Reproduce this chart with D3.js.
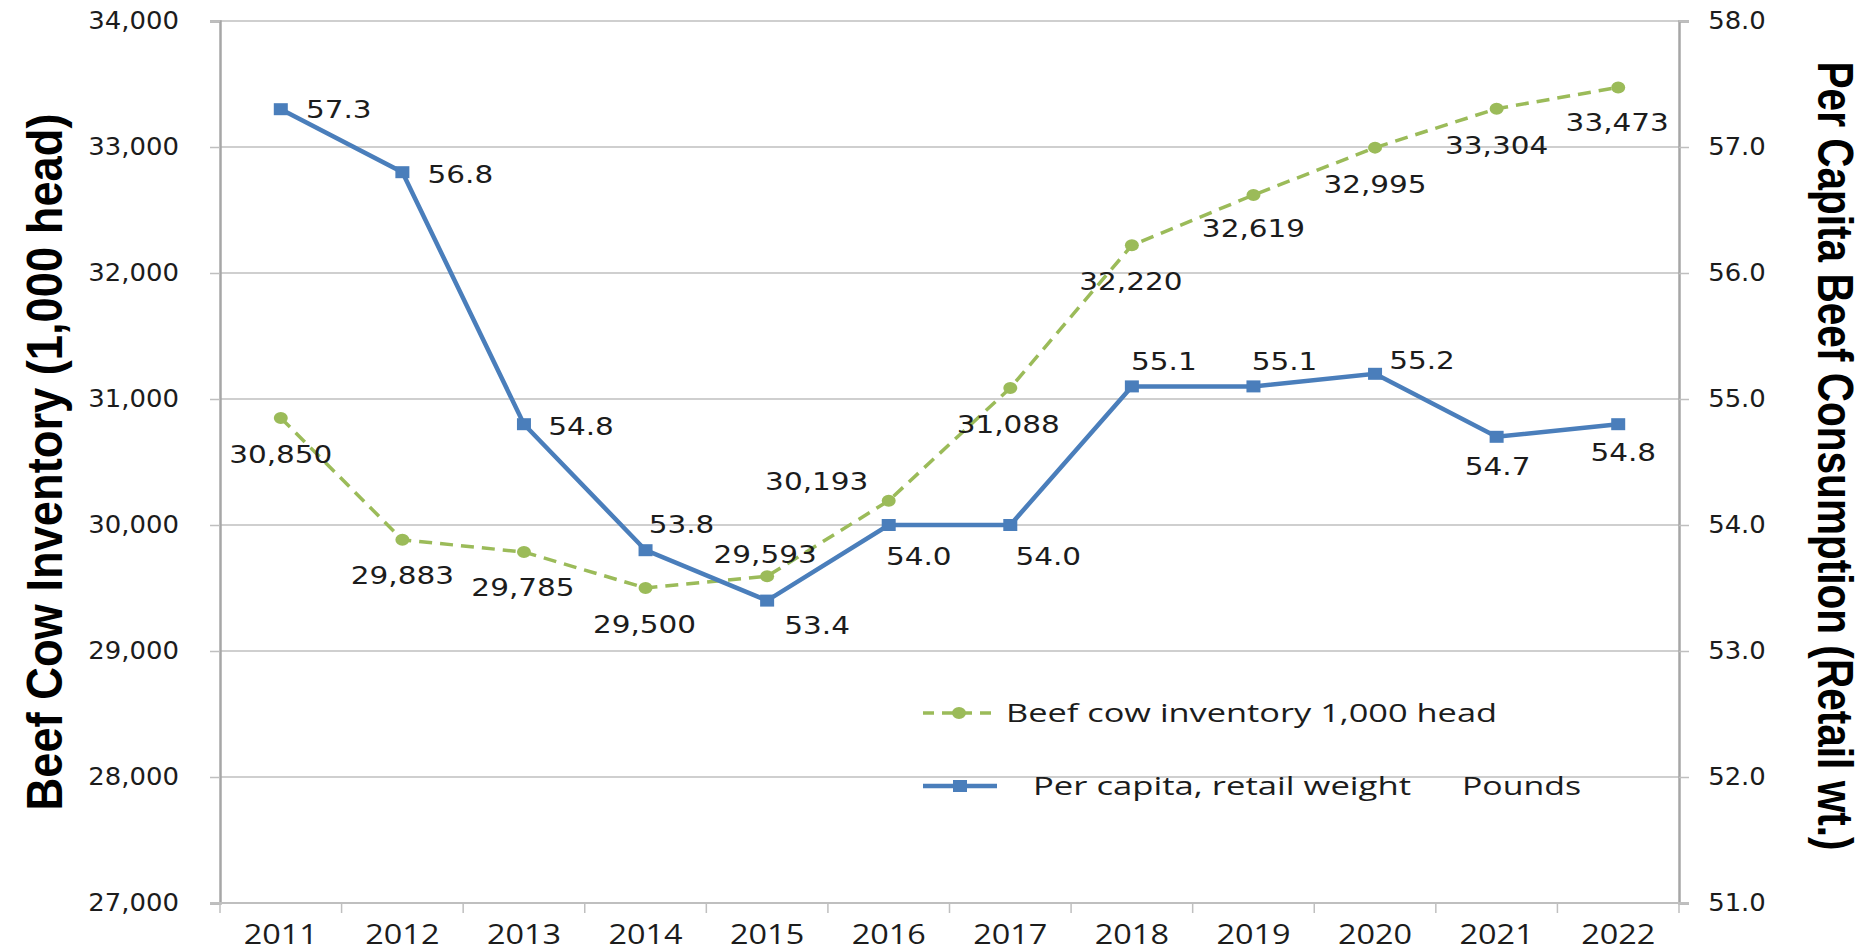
<!DOCTYPE html>
<meta charset="utf-8">
<head>
  <title>Beef cow inventory vs per capita consumption</title>
</head>
<style>
  body { margin: 0; background: #fff; }
  svg { display: block; }
</style>
<body>
<svg width="1876" height="952"></svg>

<script src="https://cdnjs.cloudflare.com/ajax/libs/d3/7.8.5/d3.min.js"></script>
<script>

// data
var years = ["2011", "2012", "2013", "2014", "2015", "2016", "2017", "2018", "2019", "2020", "2021", "2022"];
var inventory = [30850, 29883, 29785, 29500, 29593, 30193, 31088, 32220, 32619, 32995, 33304, 33473];
var perCapita = [57.3, 56.8, 54.8, 53.8, 53.4, 54.0, 54.0, 55.1, 55.1, 55.2, 54.7, 54.8];
var leftTicks = [27000, 28000, 29000, 30000, 31000, 32000, 33000, 34000];
var rightTicks = [51, 52, 53, 54, 55, 56, 57, 58];
var seriesNames = ["Beef cow inventory 1,000 head", "Per capita, retail weight", "Pounds"];

// label offsets from each point (label centre), same order as years
var greenLabelOffset = [[0,36],[0,35],[-1,35],[-1,36],[-2,-22],[-72,-20],[-2,36],[-1,36],[0,33],[0,36],[0,36],[-1,35]];
var blueLabelOffset = [[58,0],[58,2],[57,2],[36,-26],[50,24],[30,31],[38,31],[32,-25],[31,-25],[47,-14],[1,29],[5,28]];

var green = "#9bbb59", blue = "#4a7ebb", grid = "#bfbfbf", axisGrey = "#a6a6a6", ink = "#1c1c1c";

var svg = d3.select("svg"),
    plot = {left: 220, right: 1679, top: 21, bottom: 903};

var x = d3.scaleBand().domain(years).range([plot.left, plot.right]).padding(0);
var yL = d3.scaleLinear().domain([27000, 34000]).range([plot.bottom, plot.top]);
var yR = d3.scaleLinear().domain([51, 58]).range([plot.bottom, plot.top]);
var cx = function(d) { return x(d) + x.bandwidth() / 2; };

// gridlines
svg.append("g").selectAll("line")
  .data(leftTicks)
  .enter().append("line")
    .attr("x1", plot.left).attr("x2", plot.right)
    .attr("y1", function(d) { return yL(d); })
    .attr("y2", function(d) { return yL(d); })
    .attr("stroke", grid)
    .attr("stroke-width", 1.5);

// left axis
var gL = svg.append("g")
  .attr("transform", "translate(" + plot.left + ",0)")
  .call(d3.axisLeft(yL).tickValues(leftTicks).tickFormat(d3.format(",")).tickSize(10).tickPadding(28));
gL.select(".domain").attr("stroke", axisGrey).attr("stroke-width", 2.5);
gL.selectAll(".tick line").attr("stroke", grid).attr("stroke-width", 1.5);
gL.selectAll("text")
  .attr("font-family", "DejaVu Sans").attr("font-size", 24).attr("fill", ink)
  .attr("transform", "scale(1.08,1)");

// right axis
var gR = svg.append("g")
  .attr("transform", "translate(" + plot.right + ",0)")
  .call(d3.axisRight(yR).tickValues(rightTicks).tickFormat(d3.format(".1f")).tickSize(10).tickPadding(17));
gR.select(".domain").attr("stroke", axisGrey).attr("stroke-width", 2.5);
gR.selectAll(".tick line").attr("stroke", grid).attr("stroke-width", 1.5);
gR.selectAll("text")
  .attr("font-family", "DejaVu Sans").attr("font-size", 24).attr("fill", ink)
  .attr("transform", "scale(1.08,1)");

// bottom axis: labels at the band centres, ticks on the band edges
var gB = svg.append("g")
  .attr("transform", "translate(0," + plot.bottom + ")")
  .call(d3.axisBottom(x).tickSize(0));
gB.select(".domain").remove();
gB.selectAll("text")
  .attr("y", 41).attr("dy", null)
  .attr("font-family", "Open Sans").attr("font-size", 27).attr("fill", ink)
  .attr("transform", "scale(1.2,1)")
  .attr("x", 0);
gB.append("line")
  .attr("x1", plot.left - 10).attr("x2", plot.right + 10)
  .attr("y1", 0).attr("y2", 0)
  .attr("stroke", grid).attr("stroke-width", 2);
gB.selectAll(".edge")
  .data(years.concat(["end"]))
  .enter().append("line")
    .attr("class", "edge")
    .attr("x1", function(d, i) { return i < years.length ? x(d) : plot.right; })
    .attr("x2", function(d, i) { return i < years.length ? x(d) : plot.right; })
    .attr("y1", 0).attr("y2", 10)
    .attr("stroke", grid).attr("stroke-width", 1.5);

// axis titles
svg.append("text")
  .attr("transform", "translate(62,462) rotate(-90)")
  .attr("text-anchor", "middle")
  .attr("font-family", "'Liberation Sans Narrow', 'Liberation Sans', sans-serif")
  .attr("font-weight", "bold").attr("font-size", 50).attr("fill", "#000")
  .attr("textLength", 697).attr("lengthAdjust", "spacingAndGlyphs")
  .text("Beef Cow Inventory (1,000 head)");

svg.append("text")
  .attr("transform", "translate(1818,456) rotate(90)")
  .attr("text-anchor", "middle")
  .attr("font-family", "'Liberation Sans Narrow', 'Liberation Sans', sans-serif")
  .attr("font-weight", "bold").attr("font-size", 50).attr("fill", "#000")
  .attr("textLength", 789).attr("lengthAdjust", "spacingAndGlyphs")
  .text("Per Capita Beef Consumption (Retail wt.)");

// green series: inventory on the left axis
var greenLine = d3.line()
  .x(function(d, i) { return cx(years[i]); })
  .y(function(d) { return yL(d); });

svg.append("path")
  .datum(inventory)
  .attr("d", greenLine)
  .attr("fill", "none")
  .attr("stroke", green)
  .attr("stroke-width", 3.5)
  .attr("stroke-dasharray", "13,8");

svg.append("g").selectAll("ellipse")
  .data(inventory)
  .enter().append("ellipse")
    .attr("cx", function(d, i) { return cx(years[i]); })
    .attr("cy", function(d) { return yL(d); })
    .attr("rx", 7).attr("ry", 6)
    .attr("fill", green);

// blue series: per capita on the right axis
var blueLine = d3.line()
  .x(function(d, i) { return cx(years[i]); })
  .y(function(d) { return yR(d); });

svg.append("path")
  .datum(perCapita)
  .attr("d", blueLine)
  .attr("fill", "none")
  .attr("stroke", blue)
  .attr("stroke-width", 4.5);

svg.append("g").selectAll("rect")
  .data(perCapita)
  .enter().append("rect")
    .attr("x", function(d, i) { return cx(years[i]) - 7; })
    .attr("y", function(d) { return yR(d) - 6; })
    .attr("width", 14).attr("height", 12)
    .attr("fill", blue);

// data labels
function label(g, text, px, py, off) {
  g.append("text")
    .attr("transform", "translate(" + (px + off[0]) + "," + (py + off[1] + 9) + ") scale(1.18,1)")
    .attr("text-anchor", "middle")
    .attr("font-family", "DejaVu Sans").attr("font-size", 25).attr("fill", ink)
    .text(text);
}

var labels = svg.append("g");
inventory.forEach(function(d, i) {
  label(labels, d3.format(",")(d), cx(years[i]), yL(d), greenLabelOffset[i]);
});
perCapita.forEach(function(d, i) {
  label(labels, d3.format(".1f")(d), cx(years[i]), yR(d), blueLabelOffset[i]);
});

// legend
var legend = svg.append("g");
legend.append("line")
  .attr("x1", 923).attr("x2", 997).attr("y1", 713).attr("y2", 713)
  .attr("stroke", green).attr("stroke-width", 3.5).attr("stroke-dasharray", "11,8");
legend.append("ellipse")
  .attr("cx", 959).attr("cy", 713).attr("rx", 7).attr("ry", 6).attr("fill", green);
legend.append("text")
  .attr("x", 1006).attr("y", 722)
  .attr("font-family", "Open Sans").attr("font-size", 25).attr("fill", ink)
  .attr("textLength", 491).attr("lengthAdjust", "spacingAndGlyphs")
  .text(seriesNames[0]);

legend.append("line")
  .attr("x1", 923).attr("x2", 997).attr("y1", 786).attr("y2", 786)
  .attr("stroke", blue).attr("stroke-width", 4.5);
legend.append("rect")
  .attr("x", 953).attr("y", 780).attr("width", 14).attr("height", 12).attr("fill", blue);
legend.append("text")
  .attr("x", 1033).attr("y", 795)
  .attr("font-family", "Open Sans").attr("font-size", 25).attr("fill", ink)
  .attr("textLength", 378).attr("lengthAdjust", "spacingAndGlyphs")
  .text(seriesNames[1]);
legend.append("text")
  .attr("x", 1462).attr("y", 795)
  .attr("font-family", "Open Sans").attr("font-size", 25).attr("fill", ink)
  .attr("textLength", 119).attr("lengthAdjust", "spacingAndGlyphs")
  .text(seriesNames[2]);

</script>
</body>
